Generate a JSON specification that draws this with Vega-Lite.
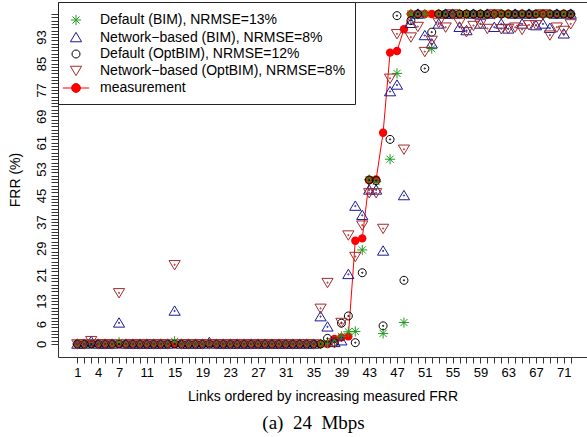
{
"$schema":"https://vega.github.io/schema/vega-lite/v6.json",
"width":529,"height":355,
"autosize":{"type":"none"},
"padding":{"left":58,"top":2,"right":0,"bottom":80},
"background":"white",
"title":{"text":"(a)\u00a0\u00a024\u00a0\u00a0Mbps","orient":"bottom","anchor":"middle","font":"Liberation Serif","fontSize":19,"fontWeight":"normal","color":"#000","offset":11,"dx":-9},
"config":{"view":{"stroke":null},"font":"Liberation Sans",
"axis":{"grid":false,"domainColor":"#333","tickColor":"#333","labelColor":"#000","titleColor":"#000","labelFont":"Liberation Sans","titleFont":"Liberation Sans","labelFontSize":13,"titleFontSize":14,"titleFontWeight":"normal","labelOverlap":false,"labelFlush":false,"labelBound":false}},
"data":{"values":[
{"x":1,"s":"g","y":0},{"x":2,"s":"g","y":0},{"x":3,"s":"g","y":0},{"x":4,"s":"g","y":0},{"x":5,"s":"g","y":0},{"x":6,"s":"g","y":0},{"x":7,"s":"g","y":0.5},{"x":8,"s":"g","y":0},{"x":9,"s":"g","y":0},{"x":10,"s":"g","y":0},{"x":11,"s":"g","y":0},{"x":12,"s":"g","y":0},{"x":13,"s":"g","y":0},{"x":14,"s":"g","y":0},{"x":15,"s":"g","y":0.8},{"x":16,"s":"g","y":0},{"x":17,"s":"g","y":0},{"x":18,"s":"g","y":0},{"x":19,"s":"g","y":0},{"x":20,"s":"g","y":0},{"x":21,"s":"g","y":0},{"x":22,"s":"g","y":0},{"x":23,"s":"g","y":0},{"x":24,"s":"g","y":0},{"x":25,"s":"g","y":0},{"x":26,"s":"g","y":0},{"x":27,"s":"g","y":0},{"x":28,"s":"g","y":0},{"x":29,"s":"g","y":0},{"x":30,"s":"g","y":0},{"x":31,"s":"g","y":0},{"x":32,"s":"g","y":0},{"x":33,"s":"g","y":0},{"x":34,"s":"g","y":0},{"x":35,"s":"g","y":0},{"x":36,"s":"g","y":0},{"x":37,"s":"g","y":0.3},{"x":38,"s":"g","y":0.8},{"x":39,"s":"g","y":2.3},{"x":40,"s":"g","y":3.7},{"x":41,"s":"g","y":3.8},{"x":42,"s":"g","y":28.5},{"x":43,"s":"g","y":49.8},{"x":44,"s":"g","y":49.2},{"x":45,"s":"g","y":3.2},{"x":46,"s":"g","y":56},{"x":47,"s":"g","y":82},{"x":48,"s":"g","y":6.5},{"x":49,"s":"g","y":100},{"x":50,"s":"g","y":100},{"x":51,"s":"g","y":100},{"x":52,"s":"g","y":89.5},{"x":53,"s":"g","y":100},{"x":54,"s":"g","y":100},{"x":55,"s":"g","y":100},{"x":56,"s":"g","y":100},{"x":57,"s":"g","y":100},{"x":58,"s":"g","y":100},{"x":59,"s":"g","y":100},{"x":60,"s":"g","y":100},{"x":61,"s":"g","y":100},{"x":62,"s":"g","y":100},{"x":63,"s":"g","y":100},{"x":64,"s":"g","y":100},{"x":65,"s":"g","y":100},{"x":66,"s":"g","y":100},{"x":67,"s":"g","y":100},{"x":68,"s":"g","y":100},{"x":69,"s":"g","y":100},{"x":70,"s":"g","y":100},{"x":71,"s":"g","y":100},{"x":72,"s":"g","y":100},
{"x":1,"s":"b","y":0},{"x":2,"s":"b","y":0},{"x":3,"s":"b","y":0.8},{"x":4,"s":"b","y":0},{"x":5,"s":"b","y":0},{"x":6,"s":"b","y":0},{"x":7,"s":"b","y":6.4},{"x":8,"s":"b","y":0},{"x":9,"s":"b","y":0},{"x":10,"s":"b","y":0},{"x":11,"s":"b","y":0},{"x":12,"s":"b","y":0},{"x":13,"s":"b","y":0},{"x":14,"s":"b","y":0},{"x":15,"s":"b","y":10},{"x":16,"s":"b","y":0},{"x":17,"s":"b","y":0},{"x":18,"s":"b","y":0},{"x":19,"s":"b","y":0},{"x":20,"s":"b","y":0.5},{"x":21,"s":"b","y":0},{"x":22,"s":"b","y":0},{"x":23,"s":"b","y":0},{"x":24,"s":"b","y":0},{"x":25,"s":"b","y":0},{"x":26,"s":"b","y":0},{"x":27,"s":"b","y":0},{"x":28,"s":"b","y":0},{"x":29,"s":"b","y":0},{"x":30,"s":"b","y":0},{"x":31,"s":"b","y":0},{"x":32,"s":"b","y":0},{"x":33,"s":"b","y":0},{"x":34,"s":"b","y":0},{"x":35,"s":"b","y":0},{"x":36,"s":"b","y":8.3},{"x":37,"s":"b","y":5.2},{"x":38,"s":"b","y":0.5},{"x":39,"s":"b","y":1},{"x":40,"s":"b","y":21.1},{"x":41,"s":"b","y":41.8},{"x":42,"s":"b","y":39},{"x":43,"s":"b","y":46.7},{"x":44,"s":"b","y":46.7},{"x":45,"s":"b","y":28.2},{"x":46,"s":"b","y":76.5},{"x":47,"s":"b","y":78.5},{"x":48,"s":"b","y":45},{"x":49,"s":"b","y":97.2},{"x":50,"s":"b","y":100},{"x":51,"s":"b","y":93.5},{"x":52,"s":"b","y":91},{"x":53,"s":"b","y":97},{"x":54,"s":"b","y":100},{"x":55,"s":"b","y":100},{"x":56,"s":"b","y":96},{"x":57,"s":"b","y":95},{"x":58,"s":"b","y":100},{"x":59,"s":"b","y":97},{"x":60,"s":"b","y":100},{"x":61,"s":"b","y":96},{"x":62,"s":"b","y":97},{"x":63,"s":"b","y":95.5},{"x":64,"s":"b","y":100},{"x":65,"s":"b","y":97},{"x":66,"s":"b","y":100},{"x":67,"s":"b","y":96.5},{"x":68,"s":"b","y":97},{"x":69,"s":"b","y":95.7},{"x":70,"s":"b","y":100},{"x":71,"s":"b","y":94},{"x":72,"s":"b","y":100},
{"x":1,"s":"c","y":0},{"x":2,"s":"c","y":0},{"x":3,"s":"c","y":0},{"x":4,"s":"c","y":0},{"x":5,"s":"c","y":0},{"x":6,"s":"c","y":0},{"x":7,"s":"c","y":0},{"x":8,"s":"c","y":0},{"x":9,"s":"c","y":0},{"x":10,"s":"c","y":0},{"x":11,"s":"c","y":0},{"x":12,"s":"c","y":0},{"x":13,"s":"c","y":0},{"x":14,"s":"c","y":0},{"x":15,"s":"c","y":0},{"x":16,"s":"c","y":0},{"x":17,"s":"c","y":0},{"x":18,"s":"c","y":0},{"x":19,"s":"c","y":0},{"x":20,"s":"c","y":0},{"x":21,"s":"c","y":0},{"x":22,"s":"c","y":0},{"x":23,"s":"c","y":0},{"x":24,"s":"c","y":0},{"x":25,"s":"c","y":0},{"x":26,"s":"c","y":0},{"x":27,"s":"c","y":0},{"x":28,"s":"c","y":0},{"x":29,"s":"c","y":0},{"x":30,"s":"c","y":0},{"x":31,"s":"c","y":0},{"x":32,"s":"c","y":0},{"x":33,"s":"c","y":0},{"x":34,"s":"c","y":0},{"x":35,"s":"c","y":0},{"x":36,"s":"c","y":0},{"x":37,"s":"c","y":1.7},{"x":38,"s":"c","y":0.5},{"x":39,"s":"c","y":6.3},{"x":40,"s":"c","y":8.5},{"x":41,"s":"c","y":0.4},{"x":42,"s":"c","y":21.6},{"x":43,"s":"c","y":49.7},{"x":44,"s":"c","y":49.5},{"x":45,"s":"c","y":5.5},{"x":46,"s":"c","y":62},{"x":47,"s":"c","y":99.5},{"x":48,"s":"c","y":19.3},{"x":49,"s":"c","y":98},{"x":50,"s":"c","y":100},{"x":51,"s":"c","y":83.5},{"x":52,"s":"c","y":94.5},{"x":53,"s":"c","y":100},{"x":54,"s":"c","y":100},{"x":55,"s":"c","y":100},{"x":56,"s":"c","y":100},{"x":57,"s":"c","y":100},{"x":58,"s":"c","y":100},{"x":59,"s":"c","y":100},{"x":60,"s":"c","y":100},{"x":61,"s":"c","y":100},{"x":62,"s":"c","y":100},{"x":63,"s":"c","y":100},{"x":64,"s":"c","y":100},{"x":65,"s":"c","y":100},{"x":66,"s":"c","y":100},{"x":67,"s":"c","y":100},{"x":68,"s":"c","y":100},{"x":69,"s":"c","y":100},{"x":70,"s":"c","y":100},{"x":71,"s":"c","y":100},{"x":72,"s":"c","y":100},
{"x":1,"s":"r","y":0},{"x":2,"s":"r","y":0},{"x":3,"s":"r","y":1},{"x":4,"s":"r","y":0},{"x":5,"s":"r","y":0},{"x":6,"s":"r","y":0},{"x":7,"s":"r","y":15.5},{"x":8,"s":"r","y":0},{"x":9,"s":"r","y":0},{"x":10,"s":"r","y":0},{"x":11,"s":"r","y":0},{"x":12,"s":"r","y":0},{"x":13,"s":"r","y":0},{"x":14,"s":"r","y":0},{"x":15,"s":"r","y":24},{"x":16,"s":"r","y":0},{"x":17,"s":"r","y":0},{"x":18,"s":"r","y":0},{"x":19,"s":"r","y":0},{"x":20,"s":"r","y":0},{"x":21,"s":"r","y":0},{"x":22,"s":"r","y":0},{"x":23,"s":"r","y":0},{"x":24,"s":"r","y":0},{"x":25,"s":"r","y":0},{"x":26,"s":"r","y":0},{"x":27,"s":"r","y":0},{"x":28,"s":"r","y":0},{"x":29,"s":"r","y":0},{"x":30,"s":"r","y":0},{"x":31,"s":"r","y":0},{"x":32,"s":"r","y":0},{"x":33,"s":"r","y":0},{"x":34,"s":"r","y":0},{"x":35,"s":"r","y":0},{"x":36,"s":"r","y":10.8},{"x":37,"s":"r","y":18.6},{"x":38,"s":"r","y":0.3},{"x":39,"s":"r","y":6.5},{"x":40,"s":"r","y":33},{"x":41,"s":"r","y":26.5},{"x":42,"s":"r","y":36},{"x":43,"s":"r","y":45.8},{"x":44,"s":"r","y":45.8},{"x":45,"s":"r","y":35},{"x":46,"s":"r","y":80.5},{"x":47,"s":"r","y":94},{"x":48,"s":"r","y":59},{"x":49,"s":"r","y":93},{"x":50,"s":"r","y":96.2},{"x":51,"s":"r","y":88.6},{"x":52,"s":"r","y":92},{"x":53,"s":"r","y":97.4},{"x":54,"s":"r","y":96},{"x":55,"s":"r","y":100},{"x":56,"s":"r","y":97.4},{"x":57,"s":"r","y":94.6},{"x":58,"s":"r","y":96.5},{"x":59,"s":"r","y":97},{"x":60,"s":"r","y":95.6},{"x":61,"s":"r","y":100},{"x":62,"s":"r","y":95.5},{"x":63,"s":"r","y":95.6},{"x":64,"s":"r","y":96},{"x":65,"s":"r","y":95.3},{"x":66,"s":"r","y":96.7},{"x":67,"s":"r","y":96.7},{"x":68,"s":"r","y":100},{"x":69,"s":"r","y":93.6},{"x":70,"s":"r","y":96},{"x":71,"s":"r","y":95},{"x":72,"s":"r","y":97},
{"x":1,"s":"m","y":0},{"x":2,"s":"m","y":0},{"x":3,"s":"m","y":0},{"x":4,"s":"m","y":0},{"x":5,"s":"m","y":0},{"x":6,"s":"m","y":0},{"x":7,"s":"m","y":0},{"x":8,"s":"m","y":0},{"x":9,"s":"m","y":0},{"x":10,"s":"m","y":0},{"x":11,"s":"m","y":0},{"x":12,"s":"m","y":0},{"x":13,"s":"m","y":0},{"x":14,"s":"m","y":0},{"x":15,"s":"m","y":0},{"x":16,"s":"m","y":0},{"x":17,"s":"m","y":0},{"x":18,"s":"m","y":0},{"x":19,"s":"m","y":0},{"x":20,"s":"m","y":0},{"x":21,"s":"m","y":0},{"x":22,"s":"m","y":0},{"x":23,"s":"m","y":0},{"x":24,"s":"m","y":0},{"x":25,"s":"m","y":0},{"x":26,"s":"m","y":0},{"x":27,"s":"m","y":0},{"x":28,"s":"m","y":0},{"x":29,"s":"m","y":0},{"x":30,"s":"m","y":0},{"x":31,"s":"m","y":0},{"x":32,"s":"m","y":0},{"x":33,"s":"m","y":0},{"x":34,"s":"m","y":0},{"x":35,"s":"m","y":0},{"x":36,"s":"m","y":0},{"x":37,"s":"m","y":0},{"x":38,"s":"m","y":1.5},{"x":39,"s":"m","y":2},{"x":40,"s":"m","y":2.3},{"x":41,"s":"m","y":31.3},{"x":42,"s":"m","y":32},{"x":43,"s":"m","y":49.7},{"x":44,"s":"m","y":49.9},{"x":45,"s":"m","y":64},{"x":46,"s":"m","y":88.3},{"x":47,"s":"m","y":88.8},{"x":48,"s":"m","y":95.4},{"x":49,"s":"m","y":100},{"x":50,"s":"m","y":100},{"x":51,"s":"m","y":100},{"x":52,"s":"m","y":100},{"x":53,"s":"m","y":100},{"x":54,"s":"m","y":100},{"x":55,"s":"m","y":100},{"x":56,"s":"m","y":100},{"x":57,"s":"m","y":100},{"x":58,"s":"m","y":100},{"x":59,"s":"m","y":100},{"x":60,"s":"m","y":100},{"x":61,"s":"m","y":100},{"x":62,"s":"m","y":100},{"x":63,"s":"m","y":100},{"x":64,"s":"m","y":100},{"x":65,"s":"m","y":100},{"x":66,"s":"m","y":100},{"x":67,"s":"m","y":100},{"x":68,"s":"m","y":100},{"x":69,"s":"m","y":100},{"x":70,"s":"m","y":100},{"x":71,"s":"m","y":100},{"x":72,"s":"m","y":100}
]},
"resolve":{"axis":{"x":"independent"}},
"encoding":{
 "y":{"field":"y","type":"quantitative","scale":{"domain":[-3.94,103.64],"nice":false,"zero":false},
   "axis":{"values":[0,1,2,3,4,5,6,7,8,9,10,11,12,13,14,15,16,17,18,19,20,21,22,23,24,25,26,27,28,29,30,31,32,33,34,35,36,37,38,39,40,41,42,43,44,45,46,47,48,49,50,51,52,53,54,55,56,57,58,59,60,61,62,63,64,65,66,67,68,69,70,71,72,73,74,75,76,77,78,79,80,81,82,83,84,85,86,87,88,89,90,91,92,93,94,95,96,97,98,99,100],
   "labelExpr":"indexof([0,6,13,21,29,37,45,53,61,69,77,85,93],datum.value)>=0?datum.label:''",
   "tickSize":7,"labelAngle":270,"labelAlign":"center","labelBaseline":"bottom","labelPadding":3,"title":"FRR (%)","titlePadding":13}}
},
"layer":[
{"transform":[{"filter":"datum.s == 'm'"}],
 "mark":{"type":"line","color":"#ff0000","strokeWidth":1},
 "encoding":{
  "x":{"field":"x","type":"quantitative","scale":{"domain":[-1.78,74.34],"nice":false,"zero":false},"axis":{"orient":"top","labels":false,"ticks":false,"title":null,"domain":true}}}},
{"transform":[{"filter":"datum.s == 'm'"}],
 "mark":{"type":"point","shape":"circle","filled":true,"color":"#ff0000","size":70,"opacity":1,"strokeWidth":0},
 "encoding":{
  "x":{"field":"x","type":"quantitative","scale":{"domain":[-1.78,74.34],"nice":false,"zero":false},"axis":null}}},
{"transform":[{"filter":"datum.s != 'm'"}],
 "mark":{"type":"point","size":289,"strokeWidth":1,"opacity":1},
 "encoding":{
  "x":{"field":"x","type":"quantitative","scale":{"domain":[-1.78,74.34],"nice":false,"zero":false},
   "axis":{"orient":"bottom","values":[1,2,3,4,5,6,7,8,9,10,11,12,13,14,15,16,17,18,19,20,21,22,23,24,25,26,27,28,29,30,31,32,33,34,35,36,37,38,39,40,41,42,43,44,45,46,47,48,49,50,51,52,53,54,55,56,57,58,59,60,61,62,63,64,65,66,67,68,69,70,71,72],
   "labelExpr":"indexof([1,4,7,11,15,19,23,27,31,35,39,43,47,51,55,59,63,67,71],datum.value)>=0?datum.label:''",
   "tickSize":6,"labelPadding":3,"labelAngle":0,"title":"Links ordered by increasing measured FRR","titlePadding":10}},
  "shape":{"field":"s","type":"nominal","scale":{"domain":["g","b","c","r","m"],"range":["M-0.6,0L0.6,0M0,-0.6L0,0.6M-0.42,-0.42L0.42,0.42M-0.42,0.42L0.42,-0.42","M0,-0.6L0.66,0.5L-0.66,0.5Z","M0.47,0A0.47,0.47,0,1,1,-0.47,0A0.47,0.47,0,1,1,0.47,0Z","M0,0.6L0.66,-0.5L-0.66,-0.5Z","M-1.55,0L1.55,0M0.52,0A0.52,0.52,0,1,1,-0.52,0A0.52,0.52,0,1,1,0.52,0Z"]},
   "legend":{"title":null,"orient":"none","legendX":0,"legendY":0,"padding":9,"strokeColor":"#222","fillColor":"#fff","symbolSize":289,"symbolStrokeWidth":1,"labelFont":"Liberation Sans","labelFontSize":14,"labelColor":"#000","labelOffset":15,"rowPadding":0.5,"labelLimit":400,"cornerRadius":0,
   "labelExpr":"{'g':'Default (BIM), NRMSE=13%','b':'Network−based (BIM), NRMSE=8%','c':'Default (OptBIM), NRMSE=12%','r':'Network−based (OptBIM), NRMSE=8%','m':'measurement'}[datum.label]"}},
  "stroke":{"field":"s","type":"nominal","scale":{"domain":["g","b","c","r","m"],"range":["#1f9e1f","#1a1a9c","#000000","#a52a2a","#ff0000"]},
   "legend":{"title":null,"orient":"none","legendX":0,"legendY":0,"padding":9,"strokeColor":"#222","fillColor":"#fff","symbolSize":289,"symbolStrokeWidth":1,"labelFont":"Liberation Sans","labelFontSize":14,"labelColor":"#000","labelOffset":15,"rowPadding":0.5,"labelLimit":400,"cornerRadius":0,
   "labelExpr":"{'g':'Default (BIM), NRMSE=13%','b':'Network−based (BIM), NRMSE=8%','c':'Default (OptBIM), NRMSE=12%','r':'Network−based (OptBIM), NRMSE=8%','m':'measurement'}[datum.label]"}},
  "fill":{"field":"s","type":"nominal","scale":{"domain":["g","b","c","r","m"],"range":["transparent","transparent","transparent","transparent","#ff0000"]},
   "legend":{"title":null,"orient":"none","legendX":0,"legendY":0,"padding":9,"strokeColor":"#222","fillColor":"#fff","symbolSize":289,"symbolStrokeWidth":1,"labelFont":"Liberation Sans","labelFontSize":14,"labelColor":"#000","labelOffset":15,"rowPadding":0.5,"labelLimit":400,"cornerRadius":0,
   "labelExpr":"{'g':'Default (BIM), NRMSE=13%','b':'Network−based (BIM), NRMSE=8%','c':'Default (OptBIM), NRMSE=12%','r':'Network−based (OptBIM), NRMSE=8%','m':'measurement'}[datum.label]"}}
 }},
{"transform":[{"filter":"datum.s != 'm'"}],
 "mark":{"type":"point","shape":"circle","size":1.5,"strokeWidth":1,"opacity":1},
 "encoding":{
  "x":{"field":"x","type":"quantitative","scale":{"domain":[-1.78,74.34],"nice":false,"zero":false},"axis":null},
  "color":{"field":"s","type":"nominal","scale":{"domain":["g","b","c","r"],"range":["#1f9e1f","#1a1a9c","#000000","#a52a2a"]},"legend":null}}}
]
}
